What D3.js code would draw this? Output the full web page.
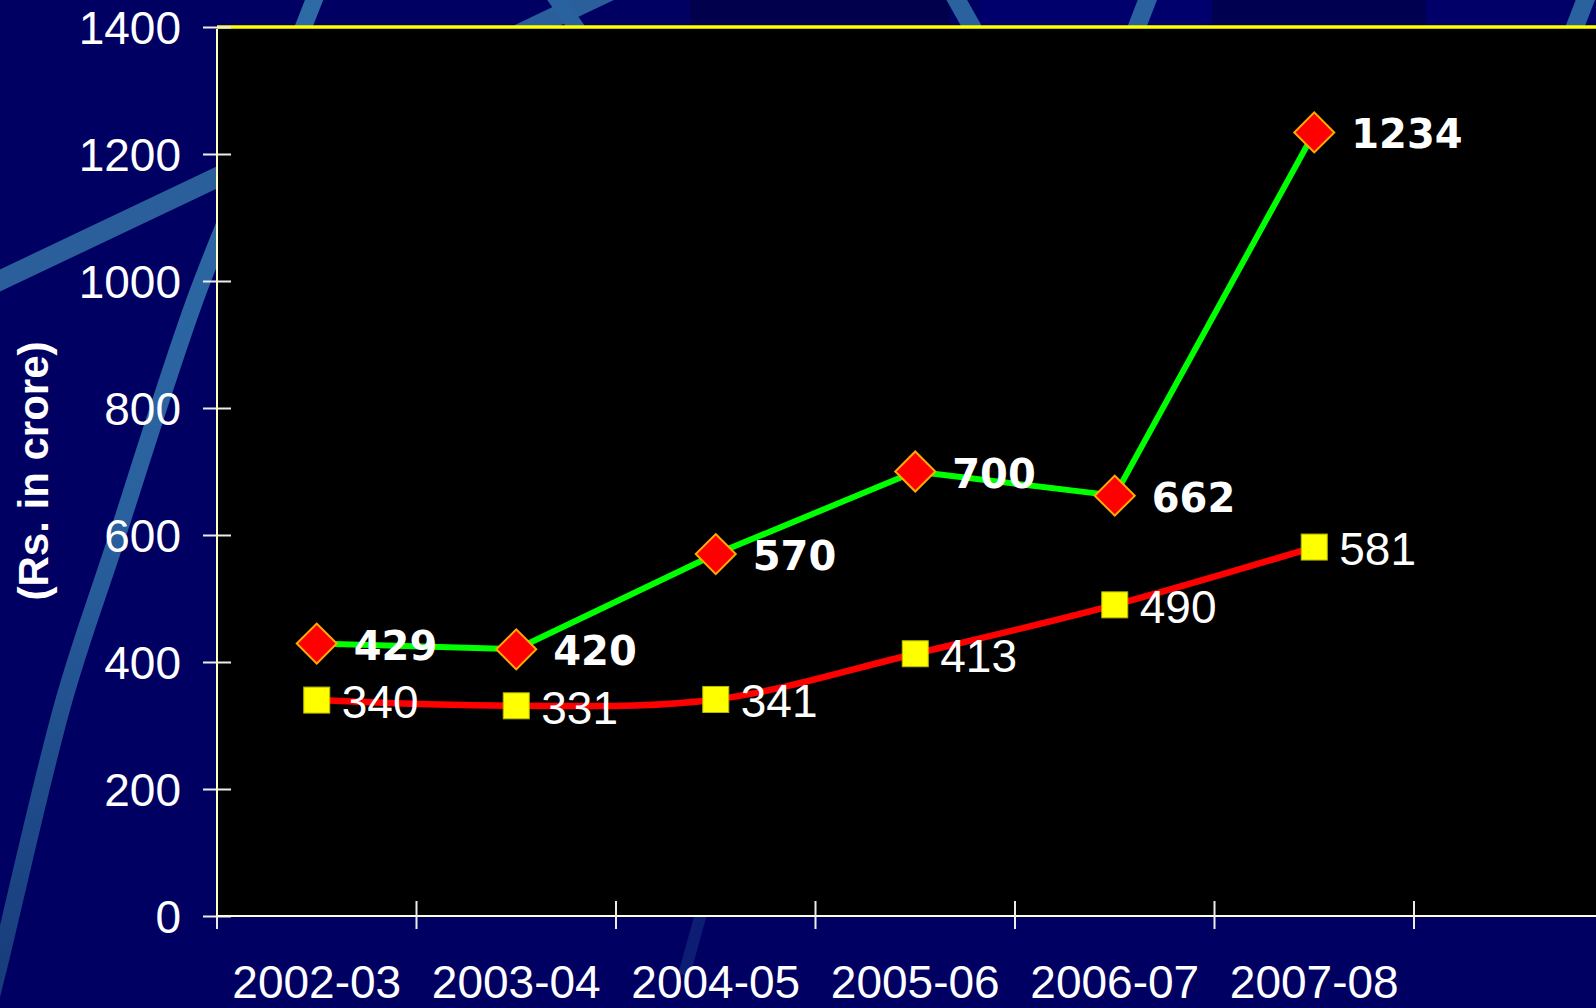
<!DOCTYPE html>
<html>
<head>
<meta charset="utf-8">
<script src="https://cdn.jsdelivr.net/npm/d3@7"></script>
<style>
  html, body { margin: 0; padding: 0; background: #000064; overflow: hidden; }
  svg { display: block; }
</style>
</head>
<body>
<svg id="chart" width="1596" height="1008"></svg>
<script>
// Financial years on the category axis
const categories = ["2002-03", "2003-04", "2004-05", "2005-06", "2006-07", "2007-08"];
// Upper series (green line, red diamonds), Rs. in crore
const upperSeries = [429, 420, 570, 700, 662, 1234];
// Lower series (red line, yellow squares), Rs. in crore
const lowerSeries = [340, 331, 341, 413, 490, 581];
// Value axis ticks
const yTickValues = [0, 200, 400, 600, 800, 1000, 1200, 1400];
const yAxisTitle = "(Rs. in crore)";

const W = 1596, H = 1008;
const plot = { left: 217, top: 27, bottom: 916, band: 199.5 };

const svg = d3.select("#chart");

// ---- slide background: navy panels with light diagonal streaks ----
const bg = svg.append("g");
bg.append("rect").attr("width", W).attr("height", H).attr("fill", "#000062");

const panels = [
  { x: 690, w: 260, fill: "#00004c" },
  { x: 980, w: 232, fill: "#00006c" },
  { x: 1212, w: 214, fill: "#000050" },
  { x: 1426, w: 170, fill: "#000068" }
];
bg.selectAll("rect.panel").data(panels).join("rect")
  .attr("class", "panel")
  .attr("x", d => d.x).attr("y", 0)
  .attr("width", d => d.w).attr("height", 60)
  .attr("fill", d => d.fill);

const grad = svg.append("defs").append("linearGradient")
  .attr("id", "streak").attr("x1", "0").attr("y1", "1").attr("x2", "0").attr("y2", "0");
grad.append("stop").attr("offset", "0").attr("stop-color", "#173a7a");
grad.append("stop").attr("offset", "0.5").attr("stop-color", "#2a62a0");
grad.append("stop").attr("offset", "1").attr("stop-color", "#2e6aa6");

const streakLine = d3.line().curve(d3.curveCatmullRom);
const streaks = [
  { pts: [[-12, 1010], [0, 962], [64, 700], [114, 546], [195, 300], [255, 150], [318, -10]], w: 17, stroke: "url(#streak)" },
  { pts: [[-20, 290], [620, -14]], w: 20, stroke: "#2a5f9c" },
  { pts: [[550, -10], [585, 40]], w: 16, stroke: "#2a62a0" },
  { pts: [[950, -12], [985, 50]], w: 18, stroke: "#2a62a0" },
  { pts: [[1152, -12], [1128, 50]], w: 18, stroke: "#2a62a0" },
  { pts: [[1590, -12], [1566, 50]], w: 18, stroke: "#2a62a0" },
  { pts: [[702, 910], [684, 975]], w: 12, stroke: "#1a3a86", op: 0.5 }
];
bg.selectAll("path.streak").data(streaks).join("path")
  .attr("class", "streak")
  .attr("d", d => streakLine(d.pts))
  .attr("fill", "none")
  .attr("stroke", d => d.stroke)
  .attr("stroke-width", d => d.w)
  .attr("opacity", d => d.op || 1);

// ---- scales ----
const x = d3.scaleBand()
  .domain(categories)
  .range([plot.left, plot.left + categories.length * plot.band]);
const y = d3.scaleLinear().domain([0, 1400]).range([plot.bottom, plot.top]);
const cx = c => x(c) + x.bandwidth() / 2;

// ---- plot area ----
svg.append("rect")
  .attr("x", plot.left).attr("y", plot.top)
  .attr("width", W - plot.left + 40).attr("height", plot.bottom - plot.top)
  .attr("fill", "#000000");
svg.append("line")
  .attr("x1", plot.left).attr("x2", W + 20)
  .attr("y1", plot.top).attr("y2", plot.top)
  .attr("stroke", "#ffff00").attr("stroke-width", 3.5);

// ---- value axis ----
const yAxis = svg.append("g")
  .attr("transform", `translate(${plot.left},0)`)
  .call(d3.axisLeft(y).tickValues(yTickValues).tickFormat(d3.format("d"))
    .tickSize(14).tickPadding(22));
yAxis.select(".domain").remove();
yAxis.selectAll(".tick line").attr("x1", 14).attr("x2", -14)
  .attr("stroke", "#ececec").attr("stroke-width", 2);
yAxis.selectAll(".tick text")
  .attr("fill", "#ffffff")
  .attr("font-family", "'Liberation Sans', Arial, sans-serif")
  .attr("font-size", 46)
  .attr("dy", "0.35em");
svg.append("line")
  .attr("x1", plot.left).attr("x2", plot.left)
  .attr("y1", plot.top + 2).attr("y2", plot.bottom)
  .attr("stroke", "#ffffc8").attr("stroke-width", 2);

// ---- category axis ----
const xAxis = svg.append("g")
  .attr("transform", `translate(0,${plot.bottom})`)
  .call(d3.axisBottom(x).tickSize(0).tickPadding(49));
xAxis.select(".domain").remove();
xAxis.selectAll(".tick text")
  .attr("fill", "#ffffff")
  .attr("font-family", "'Liberation Sans', Arial, sans-serif")
  .attr("font-size", 46);
svg.append("line")
  .attr("x1", plot.left).attr("x2", W + 20)
  .attr("y1", plot.bottom).attr("y2", plot.bottom)
  .attr("stroke", "#ffffe0").attr("stroke-width", 2);
// category boundary ticks, crossing the axis line
const boundaries = categories.map(c => x(c))
  .concat([x(categories[categories.length - 1]) + x.bandwidth()]);
svg.append("g").selectAll("line").data(boundaries).join("line")
  .attr("x1", d => d).attr("x2", d => d)
  .attr("y1", (d, i) => i === 0 ? plot.bottom : plot.bottom - 15)
  .attr("y2", plot.bottom + 13)
  .attr("stroke", "#ececec").attr("stroke-width", 2);

// y-axis title
svg.append("text")
  .attr("transform", `translate(48,471) rotate(-90)`)
  .attr("text-anchor", "middle")
  .attr("fill", "#ffffff")
  .attr("font-family", "'Liberation Sans', Arial, sans-serif")
  .attr("font-weight", "bold")
  .attr("font-size", 42)
  .text(yAxisTitle);

// ---- lower series: smoothed red line with yellow squares ----
const lowerData = categories.map((c, i) => ({ c, v: lowerSeries[i] }));
svg.append("path")
  .datum(lowerData)
  .attr("d", d3.line().x(d => cx(d.c)).y(d => y(d.v)).curve(d3.curveCardinal.tension(0)))
  .attr("fill", "none").attr("stroke", "#ff0000").attr("stroke-width", 6.5)
  .attr("stroke-linejoin", "round");

// ---- upper series: green line with red diamonds ----
const upperData = categories.map((c, i) => ({ c, v: upperSeries[i] }));
svg.append("path")
  .datum(upperData)
  .attr("d", d3.line().x(d => cx(d.c)).y(d => y(d.v)))
  .attr("fill", "none").attr("stroke", "#00ff00").attr("stroke-width", 6)
  .attr("stroke-linejoin", "round");

svg.append("g").selectAll("rect").data(lowerData).join("rect")
  .attr("x", d => cx(d.c) - 13).attr("y", d => y(d.v) - 13)
  .attr("width", 26).attr("height", 26)
  .attr("fill", "#ffff00").attr("stroke", "#b8b800").attr("stroke-width", 1);

const diamond = d3.symbol().type(d3.symbolSquare).size(800);
svg.append("g").selectAll("path").data(upperData).join("path")
  .attr("d", diamond)
  .attr("transform", d => `translate(${cx(d.c)},${y(d.v)}) rotate(45)`)
  .attr("fill", "#ff0000").attr("stroke", "#ffaa00").attr("stroke-width", 2);

// ---- value labels ----
svg.append("g").selectAll("text").data(lowerData).join("text")
  .attr("x", d => cx(d.c) + 25).attr("y", d => y(d.v) + 18)
  .attr("fill", "#ffffff")
  .attr("font-family", "'Liberation Sans', Arial, sans-serif")
  .attr("font-size", 46)
  .text(d => d.v);

svg.append("g").selectAll("text").data(upperData).join("text")
  .attr("x", d => cx(d.c) + 37).attr("y", d => y(d.v) + 16)
  .attr("fill", "#ffffff")
  .attr("font-family", "'DejaVu Sans', Verdana, sans-serif")
  .attr("font-weight", "bold")
  .attr("font-size", 40)
  .text(d => d.v);
</script>
</body>
</html>
